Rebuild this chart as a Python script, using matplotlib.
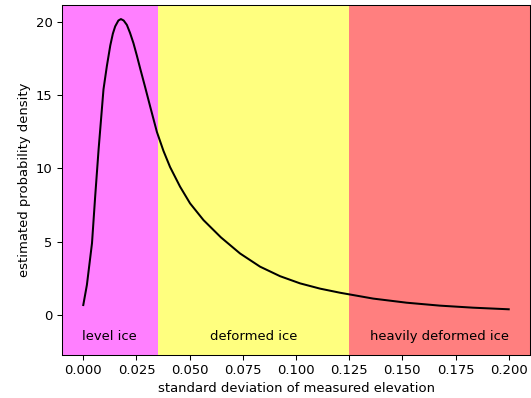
import matplotlib
matplotlib.use("Agg")
import matplotlib.pyplot as plt

# density curve
sd_values = [0.0, 0.0017, 0.0041, 0.0056, 0.0072, 0.0095, 0.0111, 0.0127, 0.0139,
             0.0150, 0.0165, 0.0177, 0.0190, 0.0205, 0.0220, 0.0236, 0.0252, 0.0268,
             0.0290, 0.0315, 0.0346, 0.0377, 0.0408, 0.0455, 0.0502, 0.0565, 0.0647,
             0.0737, 0.0831, 0.0925, 0.1019, 0.1113, 0.1207, 0.1363, 0.1520, 0.1676,
             0.1832, 0.2000]
density = [0.68, 2.05, 4.9, 8.1, 11.3, 15.4, 17.0, 18.4, 19.2,
           19.7, 20.1, 20.2, 20.1, 19.8, 19.25, 18.55, 17.7, 16.8,
           15.6, 14.2, 12.5, 11.2, 10.1, 8.76, 7.62, 6.48, 5.3,
           4.2, 3.3, 2.65, 2.16, 1.8, 1.52, 1.12, 0.84, 0.64,
           0.50, 0.39]

region_edges = [-0.01, 0.035, 0.125, 0.21]
region_colors = ["magenta", "yellow", "red"]
region_labels = ["level ice", "deformed ice", "heavily deformed ice"]

fs = 9.45
plt.rcParams["font.size"] = fs

fig = plt.figure(figsize=(5.31, 3.98), dpi=100)
ax = fig.add_axes([62/531, 43/398, 468/531, 350/398])

for i, (c, lab) in enumerate(zip(region_colors, region_labels)):
    lo, hi = region_edges[i], region_edges[i + 1]
    ax.axvspan(lo, hi, color=c, alpha=0.5, lw=0)
    ax.text((lo + hi) / 2, -1.5, lab, ha="center", va="center", fontsize=fs)

ax.plot(sd_values, density, color="black", lw=1.45)

ax.set_xlim(-0.01, 0.21)
ax.set_ylim(-2.73, 21.16)
ax.set_xticks([0.0, 0.025, 0.05, 0.075, 0.1, 0.125, 0.15, 0.175, 0.2])
ax.set_xticklabels(["0.000", "0.025", "0.050", "0.075", "0.100", "0.125", "0.150", "0.175", "0.200"])
ax.set_yticks([0, 5, 10, 15, 20])
ax.tick_params(labelsize=fs, length=3.3, width=0.75)
for s in ax.spines.values():
    s.set_linewidth(0.75)
ax.set_xlabel("standard deviation of measured elevation", fontsize=fs, labelpad=3.5)
ax.set_ylabel("estimated probability density", fontsize=fs, labelpad=3.5)

fig.savefig("out.png", dpi=100)
